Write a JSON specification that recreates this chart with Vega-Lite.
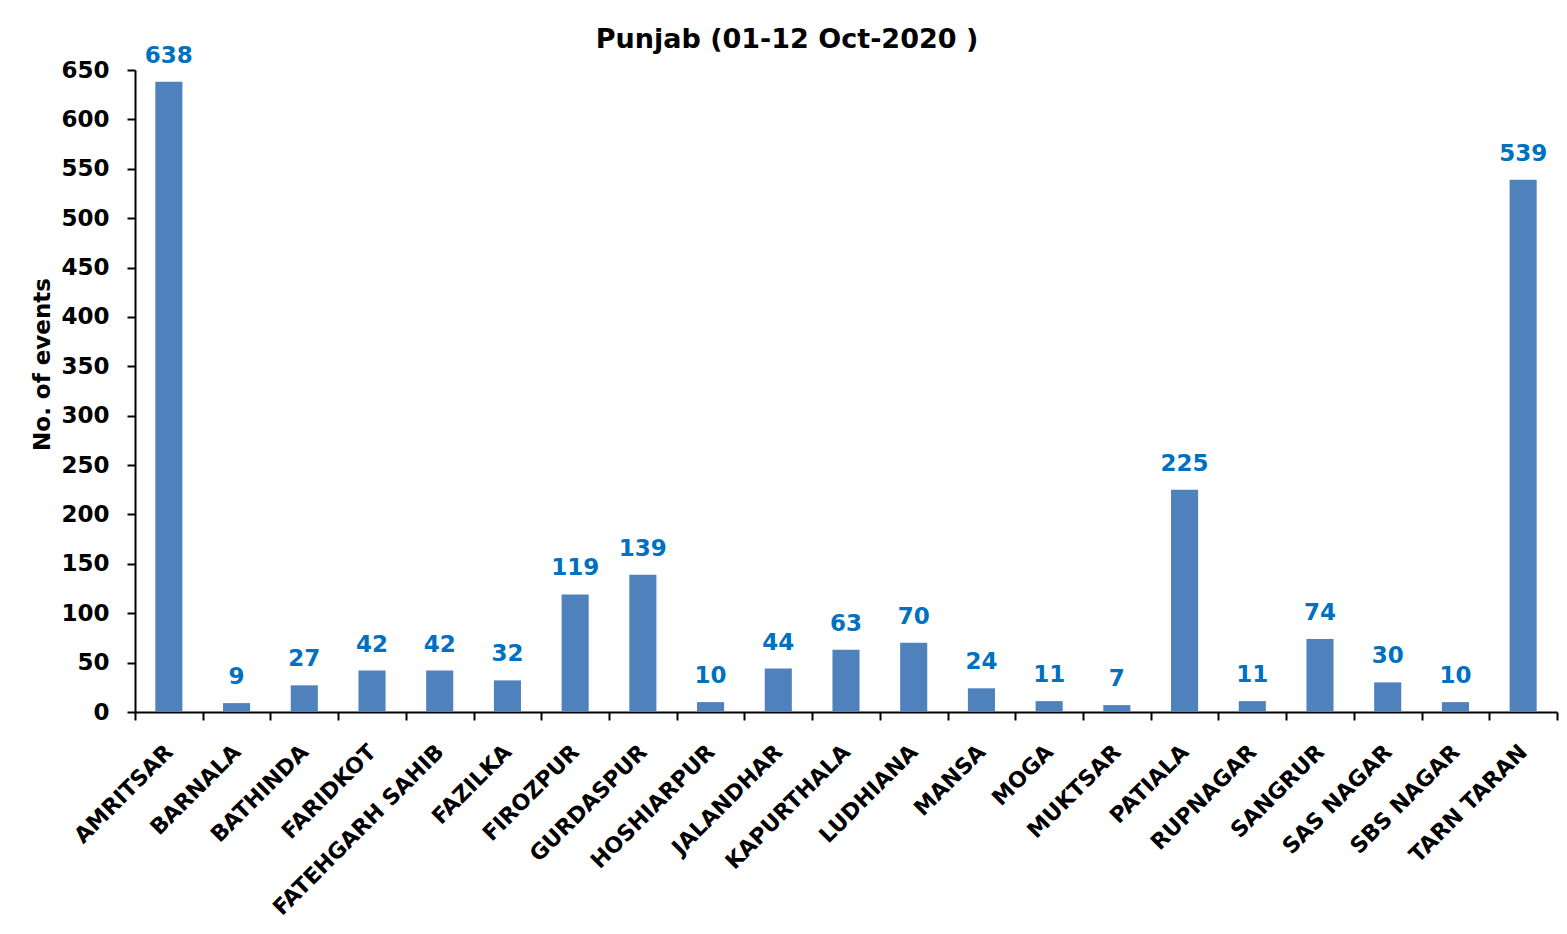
{
  "$schema": "https://vega.github.io/schema/vega-lite/v6.json",
  "width": 1422,
  "height": 642,
  "autosize": {"type": "none"},
  "padding": {"left": 135, "top": 70, "right": 10, "bottom": 222},
  "background": "white",
  "config": {"view": {"stroke": null}, "font": "DejaVu Sans"},
  "title": {
    "text": "Punjab (01-12 Oct-2020 )",
    "fontSize": 27,
    "fontWeight": "bold",
    "font": "DejaVu Sans",
    "color": "#000000",
    "anchor": "middle",
    "dx": -59,
    "dy": 29,
    "offset": 20
  },
  "data": {
    "values": [
      {"district": "AMRITSAR", "events": 638},
      {"district": "BARNALA", "events": 9},
      {"district": "BATHINDA", "events": 27},
      {"district": "FARIDKOT", "events": 42},
      {"district": "FATEHGARH SAHIB", "events": 42},
      {"district": "FAZILKA", "events": 32},
      {"district": "FIROZPUR", "events": 119},
      {"district": "GURDASPUR", "events": 139},
      {"district": "HOSHIARPUR", "events": 10},
      {"district": "JALANDHAR", "events": 44},
      {"district": "KAPURTHALA", "events": 63},
      {"district": "LUDHIANA", "events": 70},
      {"district": "MANSA", "events": 24},
      {"district": "MOGA", "events": 11},
      {"district": "MUKTSAR", "events": 7},
      {"district": "PATHANKOT", "events": null},
      {"district": "PATIALA", "events": 225},
      {"district": "RUPNAGAR", "events": 11},
      {"district": "SANGRUR", "events": 74},
      {"district": "SAS NAGAR", "events": 30},
      {"district": "SBS NAGAR", "events": 10},
      {"district": "TARN TARAN", "events": 539}
    ]
  },
  "encoding": {
    "x": {
      "field": "district",
      "type": "nominal",
      "sort": null,
      "scale": {"paddingInner": 0, "paddingOuter": 0},
      "axis": {
        "title": null,
        "labelAngle": -45,
        "labelAlign": "right",
        "labelBaseline": "middle",
        "labelFontSize": 22,
        "labelFontWeight": "bold",
        "labelColor": "#000000",
        "labelPadding": 28,
        "labelLimit": 400,
        "tickBand": "extent",
        "tickColor": "#000000",
        "tickSize": 8,
        "tickWidth": 2,
        "domainColor": "#000000",
        "domainWidth": 2,
        "grid": false
      }
    },
    "y": {
      "field": "events",
      "type": "quantitative",
      "scale": {"domain": [0, 650], "nice": false},
      "axis": {
        "title": "No. of events",
        "titleFontSize": 23,
        "titleFontWeight": "bold",
        "titleColor": "#000000",
        "titleX": -93,
        "titleY": 294,
        "titleBaseline": "middle",
        "values": [0, 50, 100, 150, 200, 250, 300, 350, 400, 450, 500, 550, 600, 650],
        "labelFontSize": 23,
        "labelFontWeight": "bold",
        "labelColor": "#000000",
        "labelPadding": 18,
        "tickColor": "#000000",
        "tickSize": 8,
        "tickWidth": 2,
        "domainColor": "#000000",
        "domainWidth": 2,
        "grid": false
      }
    }
  },
  "layer": [
    {
      "mark": {"type": "bar", "color": "#4F81BD", "width": {"band": 0.4}}
    },
    {
      "transform": [{"filter": "datum.events != null"}],
      "mark": {
        "type": "text",
        "baseline": "bottom",
        "dy": -14,
        "fontSize": 23,
        "fontWeight": "bold",
        "color": "#0070C0"
      },
      "encoding": {"text": {"field": "events", "type": "quantitative"}}
    }
  ]
}
